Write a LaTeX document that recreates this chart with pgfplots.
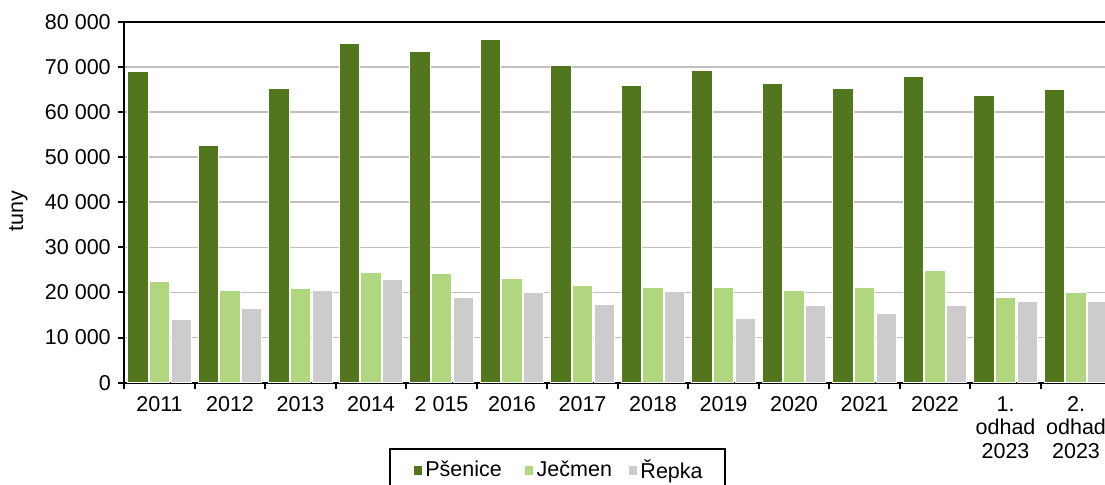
\documentclass[border=0pt]{standalone}
\usepackage{pgfplots}
\pgfplotsset{compat=1.18}
\usepackage{fontspec}
\setmainfont{Liberation Sans}
\definecolor{psen}{HTML}{52761E}
\definecolor{jecm}{HTML}{B0D680}
\definecolor{repk}{HTML}{CCCCCC}
\definecolor{gridc}{HTML}{C0C0C0}
\pgfplotstableread{
x P J R
0 68900 22500 13900
1 52500 20500 16400
2 65200 20800 20400
3 75100 24500 22800
4 73500 24200 18800
5 76000 23000 19900
6 70300 21600 17400
7 65800 21100 20200
8 69100 21200 14200
9 66300 20500 17000
10 65200 21000 15400
11 67800 24800 17200
12 63700 18800 17900
13 64900 20000 17900
}\datatable
\begin{document}
\fontsize{10.75}{11.75}\selectfont
\begin{tikzpicture}
\begin{axis}[
  at={(0pt,0pt)}, anchor=south west,
  scale only axis,
  width=493.5pt, height=180.5pt,
  xmin=-0.5, xmax=13.5,
  ymin=0, ymax=80000,
  axis x line=box, axis y line=left,
  x axis line style={-, line width=1pt},
  y axis line style={-, line width=1pt},
  xtick={0,...,13},
  xticklabels={2011,2012,2013,2014,2 015,2016,2017,2018,2019,2020,2021,2022,{1.\\odhad\\2023},{2.\\odhad\\2023}},
  major x tick style={draw=none},
  minor xtick={-0.5,0.5,...,13.5},
  xtick pos=bottom, ytick pos=left,
  tick align=outside,
  major tick length=3pt, minor tick length=3pt,
  tick style={black, line width=1pt},
  ytick={0,10000,...,80000},
  ymajorgrids,
  grid style={gridc, line width=0.8pt},
  xticklabel style={align=center, anchor=north},
  yticklabel style={/pgf/number format/.cd, fixed, 1000 sep={\ }, assume math mode=true},
  scaled y ticks=false,
  ylabel={tuny},
  ylabel style={at={(axis description cs:-0.1074,0.475)}, anchor=center},
  ybar, bar width=0.29,
  legend columns=3,
  legend style={at={(0.4393,-0.1809)}, anchor=north, draw=black, line width=1pt,
    inner xsep=11.65pt, inner ysep=3.2pt,
    nodes={inner xsep=0pt},
    /tikz/every odd column/.append style={column sep=1.65pt},
    /tikz/every even column/.append style={column sep=0pt}},
  legend image code/.code={\fill[#1, draw=none] (0pt,-2.1pt) rectangle (4.2pt,2.1pt);},
]
\addplot[fill=psen, draw=white, line width=0.5pt, bar shift=-0.308] table[x=x,y=P]{\datatable};
\addplot[fill=jecm, draw=white, line width=0.5pt, bar shift=0] table[x=x,y=J]{\datatable};
\addplot[fill=repk, draw=white, line width=0.5pt, bar shift=0.308] table[x=x,y=R]{\datatable};
\legend{\makebox[49.85pt][l]{Pšenice}, \makebox[46.05pt][l]{Ječmen}, \makebox[30.85pt][l]{Řepka}}
\end{axis}
\pgfresetboundingbox
\path (-62.15pt,-51.15pt) rectangle (490.35pt,191.35pt);
\end{tikzpicture}
\end{document}
